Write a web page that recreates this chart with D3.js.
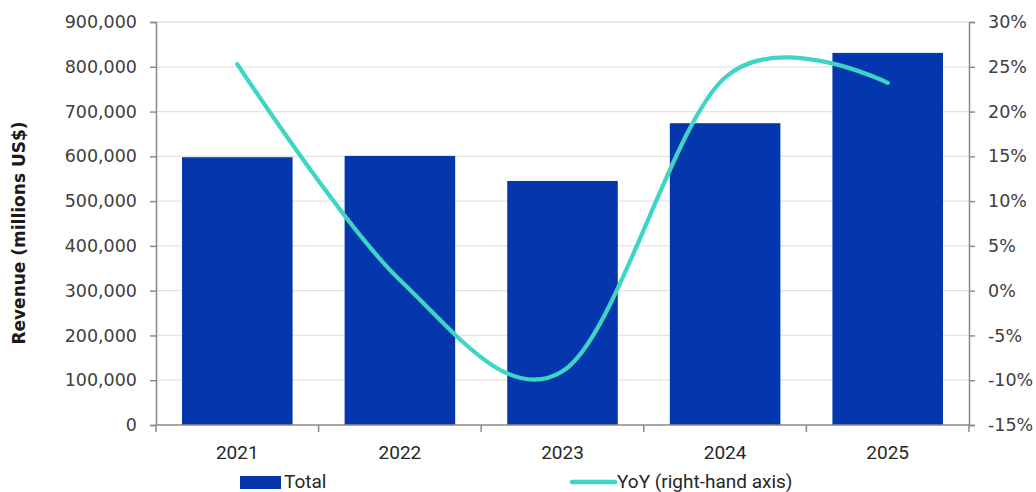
<!DOCTYPE html>
<html>
<head>
<meta charset="utf-8">
<script src="https://cdn.jsdelivr.net/npm/d3@7"></script>
<style>
  html, body { margin: 0; padding: 0; background: #ffffff; }
  svg { display: block; }
</style>
</head>
<body>
<svg id="chart" width="1036" height="492"></svg>
<script>
const categories = ["2021", "2022", "2023", "2024", "2025"];
const revenue = [598000, 601000, 545000, 674000, 831000];
const yoy = [25.3, 1.2, -9.0, 23.8, 23.2];
const leftTicks = [0, 100000, 200000, 300000, 400000, 500000, 600000, 700000, 800000, 900000];
const rightTicks = [-15, -10, -5, 0, 5, 10, 15, 20, 25, 30];
const legendLabels = ["Total", "YoY (right-hand axis)"];
const yTitle = "Revenue (millions US$)";

const svg = d3.select("#chart");
const plotLeft = 156, plotRight = 969, plotTop = 22, plotBottom = 425;
const axisColor = "#8f8983";
const gridColor = "#e3e3e3";
const barColor = "#0437ad";
const lineColor = "#3dd5c3";
const tickFont = "'DejaVu Sans', Verdana, sans-serif";
const catFont = "Roboto, 'Noto Sans', sans-serif";

const x = d3.scaleBand().domain(categories).range([plotLeft, plotRight]).paddingInner(0.32).paddingOuter(0.16);
const yL = d3.scaleLinear().domain([0, 900000]).range([plotBottom, plotTop]);
const yR = d3.scaleLinear().domain([-15, 30]).range([plotBottom, plotTop]);

// gridlines
svg.append("g").selectAll("line").data(leftTicks.filter(d => d > 0)).join("line")
  .attr("x1", plotLeft).attr("x2", plotRight)
  .attr("y1", d => yL(d)).attr("y2", d => yL(d))
  .attr("stroke", gridColor).attr("stroke-width", 1.3);

// bars
svg.append("g").selectAll("rect").data(categories).join("rect")
  .attr("x", d => x(d)).attr("width", x.bandwidth())
  .attr("y", (d, i) => yL(revenue[i])).attr("height", (d, i) => yL(0) - yL(revenue[i]))
  .attr("fill", barColor);

// left axis
const gL = svg.append("g").attr("transform", `translate(${plotLeft},0)`)
  .call(d3.axisLeft(yL).tickValues(leftTicks).tickSize(6).tickPadding(13).tickFormat(d3.format(",")));
// right axis
const gR = svg.append("g").attr("transform", `translate(${plotRight},0)`)
  .call(d3.axisRight(yR).tickValues(rightTicks).tickSize(6).tickPadding(13).tickFormat(d => d + "%"));
[gL, gR].forEach(g => {
  g.select(".domain").attr("stroke", axisColor).attr("stroke-width", 1.5);
  g.selectAll(".tick line").attr("stroke", axisColor).attr("stroke-width", 1.5);
  g.selectAll(".tick text").attr("font-family", tickFont).attr("font-size", "17.5px").attr("fill", "#404040");
});

// bottom axis (ticks at category boundaries)
const boundaries = d3.range(categories.length + 1).map(i => plotLeft + i * x.step());
const gB = svg.append("g");
gB.append("line").attr("x1", plotLeft).attr("x2", plotRight).attr("y1", plotBottom).attr("y2", plotBottom)
  .attr("stroke", axisColor).attr("stroke-width", 1.5);
gB.selectAll("line.tk").data(boundaries).join("line").attr("class", "tk")
  .attr("x1", d => d).attr("x2", d => d).attr("y1", plotBottom).attr("y2", plotBottom + 7)
  .attr("stroke", axisColor).attr("stroke-width", 1.5);
gB.selectAll("text").data(categories).join("text")
  .attr("x", d => x(d) + x.bandwidth() / 2).attr("y", 459)
  .attr("text-anchor", "middle").attr("font-family", catFont).attr("font-size", "19px")
  .attr("fill", "#262626").text(d => d);

// YoY line
const line = d3.line()
  .x((d, i) => x(categories[i]) + x.bandwidth() / 2)
  .y(d => yR(d))
  .curve(d3.curveCardinal.tension(0));
svg.append("path").datum(yoy).attr("d", line)
  .attr("fill", "none").attr("stroke", lineColor).attr("stroke-width", 4.2)
  .attr("stroke-linecap", "round").attr("stroke-linejoin", "round");

// y title
svg.append("text").attr("transform", "translate(25,233) rotate(-90)")
  .attr("text-anchor", "middle").attr("font-family", tickFont).attr("font-weight", "bold")
  .attr("font-size", "17px").attr("fill", "#1a1a1a").text(yTitle);

// legend
const lg = svg.append("g");
lg.append("rect").attr("x", 240).attr("y", 476).attr("width", 41).attr("height", 13).attr("fill", barColor);
lg.append("text").attr("x", 284).attr("y", 488).attr("font-family", catFont).attr("font-size", "19px")
  .attr("fill", "#262626").text(legendLabels[0]);
lg.append("line").attr("x1", 572).attr("x2", 615).attr("y1", 482).attr("y2", 482)
  .attr("stroke", lineColor).attr("stroke-width", 4.5).attr("stroke-linecap", "round");
lg.append("text").attr("x", 617).attr("y", 488).attr("font-family", catFont).attr("font-size", "19px")
  .attr("fill", "#262626").text(legendLabels[1]);
</script>
</body>
</html>
